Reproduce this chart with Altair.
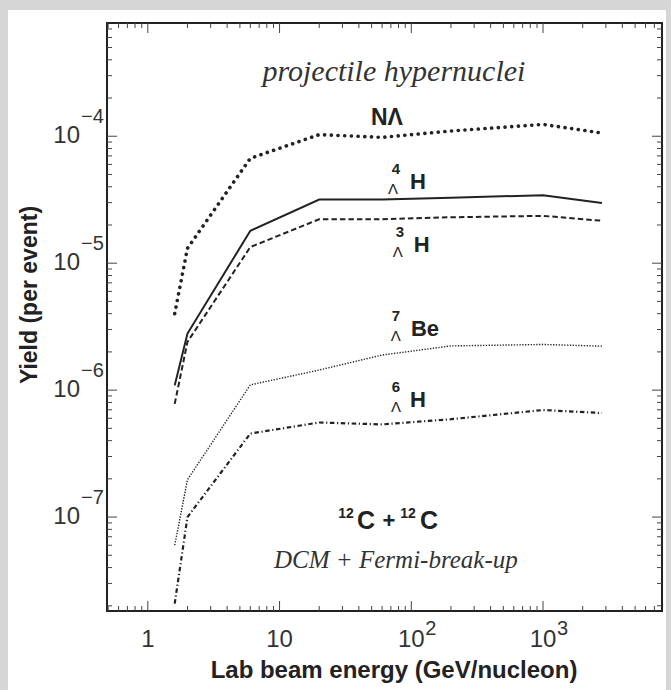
import altair as alt
import pandas as pd

# ---------------- data ----------------
energy = [1.6, 2, 6, 20, 60, 200, 1000, 2800]
yield_NL = [4.0e-6, 1.31e-5, 6.7e-5, 1.03e-4, 9.8e-5, 1.1e-4, 1.24e-4, 1.06e-4]
yield_H4 = [1.09e-6, 2.79e-6, 1.8e-5, 3.17e-5, 3.17e-5, 3.28e-5, 3.43e-5, 2.98e-5]
yield_H3 = [7.8e-7, 2.4e-6, 1.34e-5, 2.22e-5, 2.22e-5, 2.3e-5, 2.36e-5, 2.16e-5]
yield_Be7 = [6.0e-8, 1.97e-7, 1.1e-6, 1.44e-6, 1.89e-6, 2.23e-6, 2.29e-6, 2.22e-6]
yield_H6 = [2.08e-8, 1.0e-7, 4.55e-7, 5.56e-7, 5.37e-7, 5.9e-7, 6.97e-7, 6.6e-7]

x_major = [1, 10, 100, 1000]
x_major_labels = ["1", "10", "10", "10"]
x_sup_vals = [100, 1000]
x_sup_labels = ["2", "3"]
y_major = [1e-4, 1e-5, 1e-6, 1e-7]
y_sup_labels = ["\u22124", "\u22125", "\u22126", "\u22127"]

W, H = 555, 588
X_DOM = [0.49, 8000]
Y_DOM = [1.82e-8, 7.8e-4]

xs = alt.Scale(type="log", domain=X_DOM, nice=False)
ys = alt.Scale(type="log", domain=Y_DOM, nice=False)


def X(f="E"):
    return alt.X(f"{f}:Q", scale=xs, axis=None)


def Y(f="Y"):
    return alt.Y(f"{f}:Q", scale=ys, axis=None)


# minor ticks
x_minor = [m * 10 ** k for k in range(-1, 4) for m in range(2, 10)]
x_minor = [v for v in x_minor if X_DOM[0] < v < X_DOM[1]]
y_minor = [m * 10.0 ** k for k in range(-8, -3) for m in range(2, 10)]
y_minor = [v for v in y_minor if Y_DOM[0] < v < Y_DOM[1]]

one = pd.DataFrame({"a": [0]})
ink = "#222222"

layers = []

# grey page border strips
for (x0, x1, y0, y1) in [(-107, 564, -23, -13), (-107, -99, -23, 667), (559, 564, -23, 667)]:
    layers.append(alt.Chart(one).mark_rect(fill="#d6d6d6").encode(
        x=alt.value(x0), x2=alt.value(x1), y=alt.value(y0), y2=alt.value(y1)))

# ticks (inward, on all four sides)
xt_maj = pd.DataFrame({"E": x_major})
xt_min = pd.DataFrame({"E": x_minor})
yt_maj = pd.DataFrame({"Y": y_major})
yt_min = pd.DataFrame({"Y": y_minor})
tick_kw = dict(color="#444444", strokeWidth=1)
for d, L in [(xt_maj, 10), (xt_min, 5)]:
    layers.append(alt.Chart(d).mark_rule(**tick_kw).encode(x=X(), y=alt.value(H), y2=alt.value(H - L)))
    layers.append(alt.Chart(d).mark_rule(**tick_kw).encode(x=X(), y=alt.value(0), y2=alt.value(L)))
for d, L in [(yt_maj, 10), (yt_min, 5)]:
    layers.append(alt.Chart(d).mark_rule(**tick_kw).encode(y=Y(), x=alt.value(0), x2=alt.value(L)))
    layers.append(alt.Chart(d).mark_rule(**tick_kw).encode(y=Y(), x=alt.value(W), x2=alt.value(W - L)))

# curves
series = [
    ("NL", yield_NL, dict(strokeWidth=3.6, strokeDash=[0.1, 6.6], strokeCap="round")),
    ("H4", yield_H4, dict(strokeWidth=2.0)),
    ("H3", yield_H3, dict(strokeWidth=2.0, strokeDash=[5.5, 3])),
    ("Be7", yield_Be7, dict(strokeWidth=1.4, strokeDash=[1.3, 1.5])),
    ("H6", yield_H6, dict(strokeWidth=2.2, strokeDash=[4.5, 2.6, 1.2, 2.6])),
]
for name, vals, style in series:
    d = pd.DataFrame({"E": energy, "Y": vals})
    layers.append(alt.Chart(d).mark_line(color=ink, clip=True, **style).encode(x=X(), y=Y()))

# annotation texts (anchors in data coordinates)
sans = "Liberation Sans"
serif = "Liberation Serif"
NS = 22   # nuclide symbol size
PS = 15   # prescript size
pieces = [
    ("projectile hypernuclei", 73.8, 3.19e-4, dict(font=serif, fontSize=30, fontStyle="italic", align="center", color="#333333")),
    ("N\u039b", 65.3, 1.39e-4, dict(font=sans, fontSize=23, fontWeight="bold", align="center")),
    # 4-Lambda-H
    ("H", 97.6, 4.34e-5, dict(font=sans, fontSize=NS, fontWeight="bold", align="left")),
    ("4", 97.6, 4.34e-5, dict(font=sans, fontSize=PS, fontWeight="bold", align="center", dx=-14, dy=-13)),
    ("\u039b", 97.6, 4.34e-5, dict(font=sans, fontSize=PS, align="center", dx=-17, dy=7)),
    # 3-Lambda-H
    ("H", 104.6, 1.38e-5, dict(font=sans, fontSize=NS, fontWeight="bold", align="left")),
    ("3", 104.6, 1.38e-5, dict(font=sans, fontSize=PS, fontWeight="bold", align="center", dx=-14, dy=-13)),
    ("\u039b", 104.6, 1.38e-5, dict(font=sans, fontSize=PS, align="center", dx=-16, dy=7)),
    # 7-Lambda-Be
    ("Be", 99.3, 3.01e-6, dict(font=sans, fontSize=NS, fontWeight="bold", align="left")),
    ("7", 99.3, 3.01e-6, dict(font=sans, fontSize=PS, fontWeight="bold", align="center", dx=-15, dy=-13)),
    ("\u039b", 99.3, 3.01e-6, dict(font=sans, fontSize=PS, align="center", dx=-15, dy=7)),
    # 6-Lambda-H
    ("H", 97.6, 8.31e-7, dict(font=sans, fontSize=NS, fontWeight="bold", align="left")),
    ("6", 97.6, 8.31e-7, dict(font=sans, fontSize=PS, fontWeight="bold", align="center", dx=-14, dy=-13)),
    ("\u039b", 97.6, 8.31e-7, dict(font=sans, fontSize=PS, align="center", dx=-14, dy=7)),
    # 12C + 12C
    ("12", 65.3, 9.25e-8, dict(font=sans, fontSize=14, fontWeight="bold", align="center", dx=-41, dy=-7)),
    ("C", 65.3, 9.25e-8, dict(font=sans, fontSize=25, fontWeight="bold", align="center", dx=-21)),
    ("+", 65.3, 9.25e-8, dict(font=sans, fontSize=22, fontWeight="bold", align="center", dx=2)),
    ("12", 65.3, 9.25e-8, dict(font=sans, fontSize=14, fontWeight="bold", align="center", dx=21, dy=-7)),
    ("C", 65.3, 9.25e-8, dict(font=sans, fontSize=25, fontWeight="bold", align="center", dx=42)),
    ("DCM + Fermi-break-up", 76.4, 4.56e-8, dict(font=serif, fontSize=25, fontStyle="italic", align="center", color="#333333")),
]
for t, e, yv, st in pieces:
    st = dict(st)
    st.setdefault("color", ink)
    st.setdefault("baseline", "middle")
    d = pd.DataFrame({"E": [e], "Y": [yv], "t": [t]})
    layers.append(alt.Chart(d).mark_text(**st).encode(x=X(), y=Y(), text="t:N"))

# x tick labels
lab_col = "#333333"
d = pd.DataFrame({"E": x_major, "t": x_major_labels})
layers.append(alt.Chart(d).mark_text(font=sans, fontSize=24, color=lab_col, align="center", baseline="middle")
              .encode(x=X(), y=alt.value(H + 29), text="t:N"))
d = pd.DataFrame({"E": x_sup_vals, "t": x_sup_labels})
layers.append(alt.Chart(d).mark_text(font=sans, fontSize=20, color=lab_col, align="left", baseline="middle", dx=14)
              .encode(x=X(), y=alt.value(H + 18), text="t:N"))

# y tick labels
d = pd.DataFrame({"Y": y_major, "t": ["10"] * len(y_major)})
layers.append(alt.Chart(d).mark_text(font=sans, fontSize=24, color=lab_col, align="right", baseline="middle")
              .encode(y=Y(), x=alt.value(-27), text="t:N"))
d = pd.DataFrame({"Y": y_major, "t": y_sup_labels})
layers.append(alt.Chart(d).mark_text(font=sans, fontSize=20, color=lab_col, align="left", baseline="middle", dy=-19)
              .encode(y=Y(), x=alt.value(-26), text="t:N"))

# axis titles
layers.append(alt.Chart(pd.DataFrame({"t": ["Lab beam energy (GeV/nucleon)"]}))
              .mark_text(font=sans, fontSize=24, fontWeight="bold", color=ink, align="center", baseline="alphabetic")
              .encode(x=alt.value(287), y=alt.value(655), text="t:N"))
layers.append(alt.Chart(pd.DataFrame({"t": ["Yield (per event)"]}))
              .mark_text(font=sans, fontSize=23, fontWeight="bold", color=ink, align="center", baseline="alphabetic", angle=270)
              .encode(x=alt.value(-70), y=alt.value(272), text="t:N"))

chart = alt.layer(*layers).properties(
    width=W, height=H,
    autosize=alt.AutoSizeParams(type="none"),
    padding={"left": 107, "top": 23, "right": 9, "bottom": 79},
    background="white",
).configure_view(stroke=ink, strokeWidth=2)

chart.save("out.html", embed_options={"renderer": "svg", "actions": False})
